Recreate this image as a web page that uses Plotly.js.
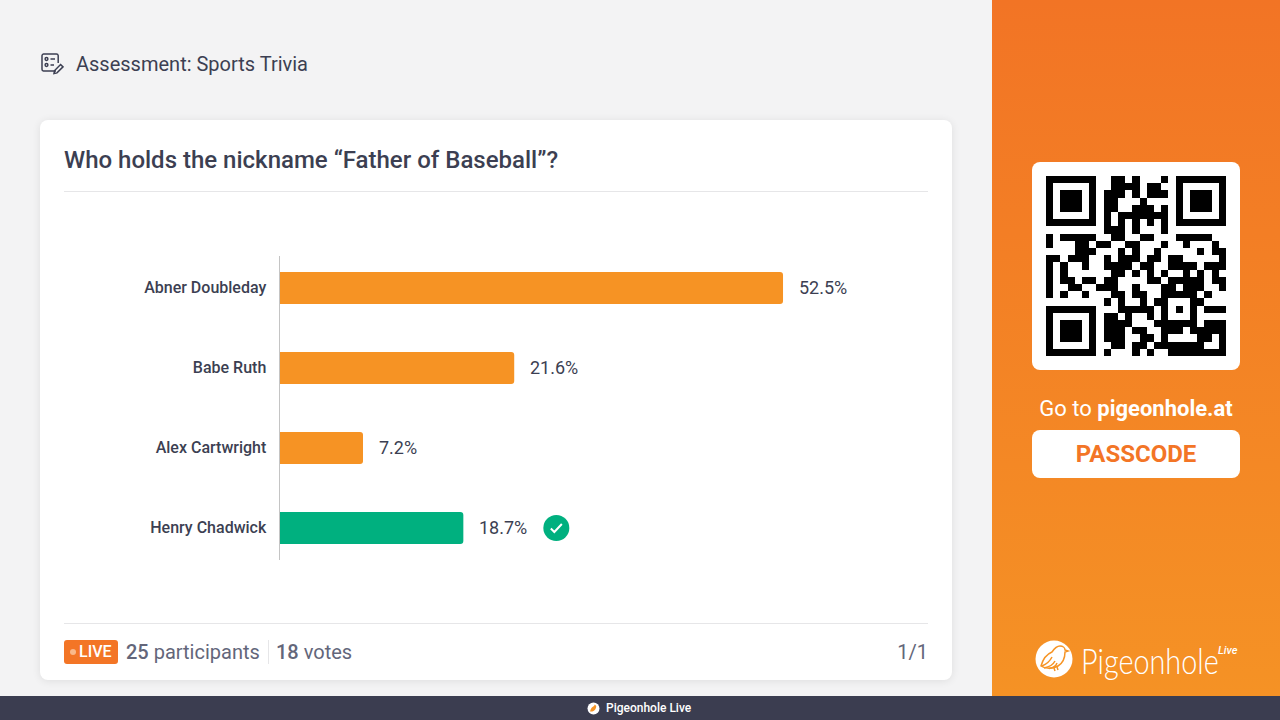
<!DOCTYPE html>
<html>
<head>
<meta charset="utf-8">
<title>Assessment: Sports Trivia</title>
<script src="https://cdn.plot.ly/plotly-3.0.1.min.js"></script>
<style>
  html, body { margin: 0; padding: 0; width: 1280px; height: 720px; overflow: hidden; background: #f3f3f4; font-family: Roboto, sans-serif; color: #3c3f52; }
  .abs { position: absolute; white-space: nowrap; }
  #card { left: 40px; top: 120px; width: 912px; height: 560px; background: #fff; border-radius: 8px; box-shadow: 0 1px 8px rgba(0,0,0,.09); }
  #side { left: 992px; top: 0; width: 288px; height: 696px; background: linear-gradient(180deg, #f27425 0%, #f59225 100%); }
  #bottom { left: 0; top: 696px; width: 1280px; height: 24px; background: #3b3d50; }
  #chart { left: 0; top: 0; width: 1280px; height: 720px; }
  .rule { left: 64px; width: 864px; height: 1px; background: #e6e6e8; }
  .foot { top: 640px; line-height: 24px; font-size: 20px; color: #63667a; }
  .foot b { font-weight: 500; }
</style>
</head>
<body>
<div class="abs" id="card"></div>
<div class="abs" id="side"></div>
<div class="abs" id="bottom"></div>

<svg class="abs" style="left:40px;top:52px" width="24" height="24" viewBox="0 0 24 24" fill="none" stroke="#3c3f52" stroke-width="1.5">
  <path d="M16 19H3.5A1.8 1.8 0 0 1 2 17.2V3.5A1.8 1.8 0 0 1 3.5 2h13A1.8 1.8 0 0 1 18.2 3.5V11"/>
  <circle cx="6.5" cy="7" r="1.4"/><circle cx="6.5" cy="13" r="1.4"/>
  <path d="M10.5 7H15M10.5 13H14"/>
  <path d="M14 21.5l.6-3 6-6 2.4 2.4-6 6z"/>
</svg>
<div class="abs" style="left:76px;top:50px;font-size:20px;line-height:28px">Assessment: Sports Trivia</div>

<div class="abs" style="left:64px;top:144px;font-size:24px;line-height:32px;font-weight:500">Who holds the nickname “Father of Baseball”?</div>
<div class="abs rule" style="top:191px"></div>
<div class="abs rule" style="top:623px"></div>

<div class="abs" style="left:64px;top:640px;width:54px;height:24px;border-radius:3px;background:#f37526"></div>
<div class="abs" style="left:70px;top:649px;width:6px;height:6px;border-radius:50%;background:#f9b98b"></div>
<div class="abs" style="left:79px;top:640px;font-size:16px;line-height:24px;font-weight:500;color:#fff">LIVE</div>
<div class="abs foot" style="left:126px"><b>25</b> participants</div>
<div class="abs" style="left:268px;top:640px;width:1px;height:24px;background:#e6e6e8"></div>
<div class="abs foot" style="left:276px"><b>18</b> votes</div>
<div class="abs foot" style="right:352px">1/1</div>

<div class="abs" style="left:1032px;top:162px;width:208px;height:208px;border-radius:8px;background:#fff"></div>
<div class="abs" style="left:992px;width:288px;top:394px;text-align:center;font-size:22px;line-height:30px;color:#fff">Go to <b style="font-weight:700">pigeonhole.at</b></div>
<div class="abs" style="left:1032px;top:430px;width:208px;height:48px;border-radius:8px;background:#fff;text-align:center;font-size:24px;line-height:48px;font-weight:700;color:#f37526">PASSCODE</div>

<svg class="abs" style="left:1035px;top:640px" width="38" height="38" viewBox="0 0 38 38">
  <circle cx="19" cy="19" r="18.5" fill="#fff"/>
  <g fill="none" stroke="#f69425" stroke-width="1.5">
    <path d="M6 26C8 19 12 14 17 12C19 9 21 6 25 6C28 6 30 8 30 10L33 11L30 12C30 18 28 23 23 26C18 29 10 29 6 26Z"/>
    <path d="M7 26C12 24 15 21 17 17M9 28C14 27 18 25 20 21M14 28.500C18 28 21 26 22 23"/>
    <path d="M19 28L20 31M22 27L23 30"/>
  </g>
</svg>
<div class="abs" style="left:1081px;top:638px;font-family:Lato;font-weight:300;font-size:36px;line-height:44px;color:#fff;transform:scaleX(.8);transform-origin:0 0">Pigeonhole</div>
<div class="abs" style="left:1218px;top:644px;font-size:11px;line-height:14px;font-style:italic;font-weight:500;color:#fff">Live</div>

<svg class="abs" style="left:587px;top:702px" width="13" height="13" viewBox="0 0 13 13">
  <circle cx="6.500" cy="6.500" r="6" fill="#fff"/>
  <path d="M3 9.500c.5-3 2.500-5 4-5.500l.8-1.500 1.500 1.500c0 2.500-1.500 5-4 5.500z" fill="#f69425"/>
</svg>
<div class="abs" style="left:606px;top:696px;font-size:12px;line-height:24px;font-weight:500;color:#fff">Pigeonhole Live</div>

<div class="abs" id="chart"></div>

<script>
// options as shown on the slide, top to bottom
const answers = ['Abner Doubleday', 'Babe Ruth', 'Alex Cartwright', 'Henry Chadwick'];
const percentLabels = ['52.5%', '21.6%', '7.2%', '18.7%'];
// drawn bar lengths (they are not proportional to the printed labels)
const barLengths = [52.45, 24.45, 8.7, 19.15];
const barColors = ['#f69324', '#f69324', '#f69324', '#00b07f'];
const correctAnswer = 'Henry Chadwick';

// QR modules, 1 = dark
const qrRows = [
  '1111111001101000101111111',
  '1000001001111011001000001',
  '1011101011101011101011101',
  '1011101011000100001011101',
  '1011101011001110101011101',
  '1000001010111111101000001',
  '1111111010101010101111111',
  '0000000011101000100000000',
  '1011111001100110001111100',
  '1000110110011000100100010',
  '0000111000101001000001011',
  '1101110010111011011000001',
  '1010010011110110011110111',
  '1010000001101010100101010',
  '1011011011000011011111011',
  '1001100111001000110111001',
  '1010010001101100111110100',
  '0000000010100101100011000',
  '1111111000111110101010111',
  '1000001011010010100010000',
  '1011101011110001111110111',
  '1011101011101100111011111',
  '1011101011100110100001101',
  '1000001001101101111111001',
  '1111111010001010011111111'
];

const W = 1280, H = 720;
const px = v => v / W;
const py = v => 1 - v / H;

const bars = {
  type: 'bar',
  orientation: 'h',
  y: answers,
  x: barLengths,
  marker: { color: barColors, line: { width: 0 } },
  hoverinfo: 'skip'
};

const qr = {
  type: 'heatmap',
  xaxis: 'x2',
  yaxis: 'y2',
  z: qrRows.map(r => r.split('').map(Number)),
  zmin: 0,
  zmax: 1,
  colorscale: [[0, '#ffffff'], [1, '#000000']],
  showscale: false,
  hoverinfo: 'skip'
};

const labels = answers.map((a, i) => ({
  x: barLengths[i],
  y: a,
  xref: 'x',
  yref: 'y',
  text: percentLabels[i],
  showarrow: false,
  xanchor: 'left',
  xshift: 14,
  yshift: 1,
  font: { family: 'Roboto', size: 18, color: '#3c3f52' }
}));

const correctX = barLengths[answers.indexOf(correctAnswer)];

const layout = {
  width: W,
  height: H,
  margin: { l: 0, r: 0, t: 0, b: 0 },
  paper_bgcolor: 'rgba(0,0,0,0)',
  plot_bgcolor: 'rgba(0,0,0,0)',
  showlegend: false,
  bargap: 0.6,
  barcornerradius: 3,
  xaxis: {
    domain: [px(279.5), px(927.5)],
    range: [0, 67.5],
    visible: false
  },
  yaxis: {
    domain: [py(560), py(256)],
    type: 'category',
    range: [3.4, -0.4],
    showgrid: false,
    zeroline: false,
    showline: true,
    linecolor: '#c4c4c4',
    linewidth: 1,
    ticks: '',
    ticklabelstandoff: 9,
    ticklabelshift: 1,
    tickfont: { family: 'Roboto', size: 16, weight: 500, color: '#3c3f52' }
  },
  xaxis2: {
    domain: [px(1046), px(1226)],
    anchor: 'y2',
    range: [-0.5, 24.5],
    visible: false
  },
  yaxis2: {
    domain: [py(356), py(176)],
    anchor: 'x2',
    range: [24.5, -0.5],
    visible: false
  },
  annotations: labels,
  shapes: [
    // answer tick, sits a fixed distance past the bar end
    {
      type: 'circle',
      xref: 'x', yref: 'y',
      xsizemode: 'pixel', ysizemode: 'pixel',
      xanchor: correctX, yanchor: correctAnswer,
      x0: 80, x1: 106, y0: -13, y1: 13,
      fillcolor: '#00b07f',
      line: { width: 0 }
    },
    {
      type: 'path',
      xref: 'x', yref: 'y',
      xsizemode: 'pixel', ysizemode: 'pixel',
      xanchor: correctX, yanchor: correctAnswer,
      path: 'M 87.5 -0.5 L 91 -4 L 98.5 4',
      line: { color: '#ffffff', width: 2 }
    }
  ]
};

Plotly.newPlot('chart', [bars, qr], layout, { displayModeBar: false, staticPlot: true });
</script>
</body>
</html>
